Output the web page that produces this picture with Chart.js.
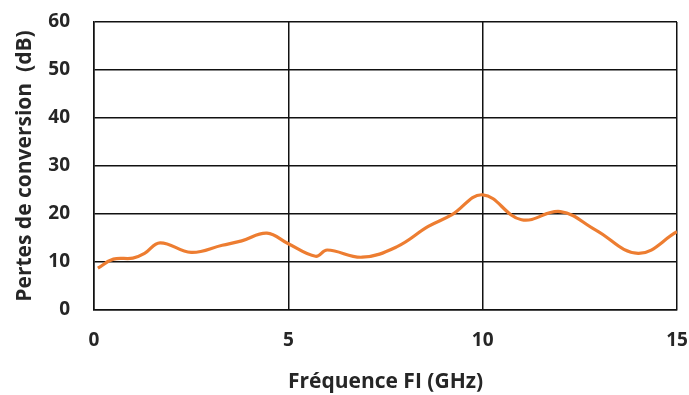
<!DOCTYPE html>
<html>
<head>
    <title>Pertes de conversion</title>
    <script src="https://cdn.jsdelivr.net/npm/chart.js"></script>
    <style>
        body { margin: 0; background: #fff; }
        #wrap { width: 689px; height: 395px; }
    </style>
</head>
<body>
    <div id="wrap"><canvas id="lossChart" width="689" height="395"></canvas></div>

    <script>
        // Frequency FI (GHz) and conversion loss (dB)
        const freqGHz = [0.1, 0.5, 1.0, 1.3, 1.7, 2.5, 3.3, 3.8, 4.45, 5.0, 5.7, 6.0, 6.9, 7.8, 8.6, 9.2, 10.0, 11.0, 12.0, 12.9, 14.0, 15.0];
        const lossDb = [8.7, 10.6, 10.8, 11.8, 14.0, 12.0, 13.5, 14.4, 16.0, 13.8, 11.2, 12.5, 11.0, 13.2, 17.4, 19.8, 24.0, 18.8, 20.5, 16.7, 11.8, 16.3];
        const xTicks = [0, 5, 10, 15];
        const yTicks = [0, 10, 20, 30, 40, 50, 60];

        const points = freqGHz.map((f, i) => ({ x: f, y: lossDb[i] }));
        const textColor = '#262626';
        const tickFont = { family: 'Open Sans', size: 19, weight: 'bold' };
        const titleFont = { family: 'Open Sans', size: 21, weight: 'bold' };

        const ctx = document.getElementById('lossChart').getContext('2d');
        new Chart(ctx, {
            type: 'scatter',
            data: {
                datasets: [{
                    data: points,
                    showLine: true,
                    borderColor: '#ED7D31',
                    borderWidth: 3.2,
                    pointRadius: 0,
                    tension: 0.4,
                    fill: false
                }]
            },
            options: {
                responsive: false,
                animation: false,
                layout: { padding: { top: 22, right: 12, left: 0, bottom: 0 } },
                plugins: { legend: { display: false }, tooltip: { enabled: false } },
                scales: {
                    x: {
                        type: 'linear',
                        min: 0,
                        max: 15,
                        afterBuildTicks: axis => { axis.ticks = xTicks.map(v => ({ value: v })); },
                        afterFit: axis => {
                            axis.height = 85;
                            axis.paddingLeft = 0;
                            axis.paddingRight = 0;
                        },
                        grid: { color: '#111', lineWidth: 1.5, drawTicks: false },
                        border: { color: '#111', width: 1.5 },
                        ticks: { color: textColor, font: tickFont, padding: 19 },
                        title: {
                            display: true,
                            text: 'Fréquence FI (GHz)',
                            color: textColor,
                            font: titleFont,
                            padding: { top: 0, bottom: 0 }
                        }
                    },
                    y: {
                        min: 0,
                        max: 60,
                        afterBuildTicks: axis => { axis.ticks = yTicks.map(v => ({ value: v })); },
                        afterFit: axis => {
                            axis.width = 94;
                            axis.paddingTop = 0;
                            axis.paddingBottom = 0;
                        },
                        grid: { color: '#111', lineWidth: 1.5, drawTicks: false },
                        border: { color: '#111', width: 1.5 },
                        ticks: { color: textColor, font: tickFont, padding: 24 },
                        title: {
                            display: true,
                            text: 'Pertes de conversion  (dB)',
                            color: textColor,
                            font: titleFont,
                            padding: { top: 12, bottom: 12 }
                        }
                    }
                }
            }
        });
    </script>
</body>
</html>
